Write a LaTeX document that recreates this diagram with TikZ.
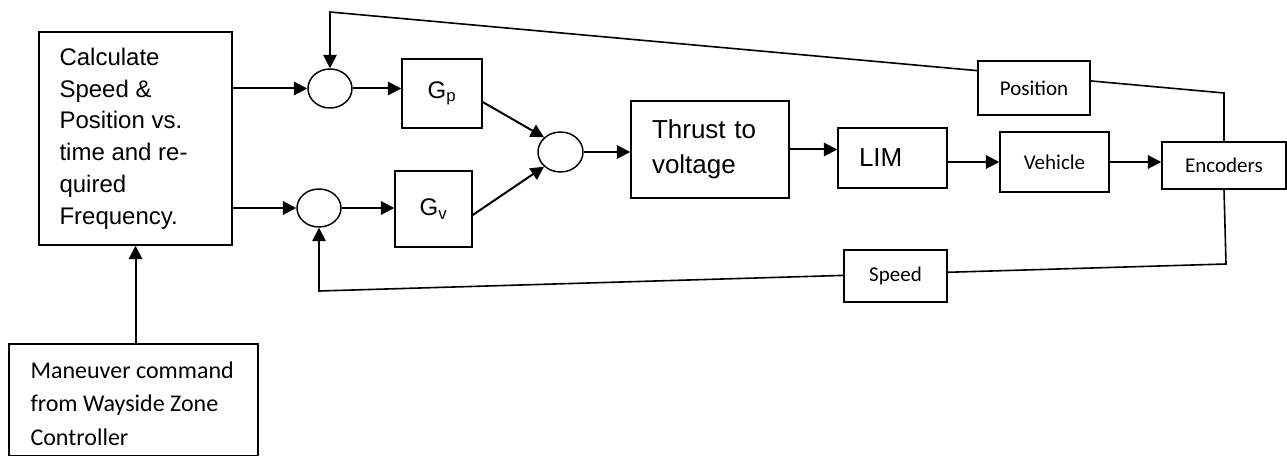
\documentclass[tikz,border=0pt]{standalone}
\usepackage{fontspec}
\setmainfont{Liberation Sans}
\newfontfamily\calfont{Carlito}
\usetikzlibrary{arrows.meta,positioning,shapes.geometric,backgrounds}
\tikzset{
    >={Triangle[length=10pt,width=10pt]},
    blk/.style={draw, line width=1.1pt, fill=white, inner sep=0pt},
    bigblk/.style={blk, font=\fontsize{19.5}{26.25}\selectfont, align=left, inner xsep=15.75pt},
    smallblk/.style={blk, font=\calfont\fontsize{15.75}{19}\selectfont},
    gblk/.style={blk, font=\fontsize{18}{22}\selectfont},
    sumnode/.style={draw, ellipse, line width=1.1pt, fill=white, inner sep=0pt},
    txt/.style={inner sep=0pt, align=left},
    arrow/.style={->, line width=1.5pt},
    fbarrow/.style={->, line width=1.2pt}
}

\begin{document}
\begin{tikzpicture}[x=0.75pt, y=-0.75pt]
\useasboundingbox (0,0) rectangle (1287,456);
\node[blk, minimum width=144.75pt, minimum height=159.75pt] (calc) at (135.5,138.5) {};
\node[txt, font=\fontsize{18}{23.8}\selectfont, below right=12.4pt and 15.75pt of calc.north west] (calctext) {Calculate\\Speed \&\\Position vs.\\time and re-\\quired\\Frequency.};
\node[blk, minimum width=186.75pt, minimum height=83.6pt] (man) at (133.5,399.75) {};
\node[txt, font=\calfont\fontsize{18}{25}\selectfont, below right=13.6pt and 16.5pt of man.north west] (mantext) {Maneuver command\\from Wayside Zone\\Controller};
\node[sumnode, minimum width=33pt, minimum height=29.25pt] (sump) at (330,88.5) {};
\node[sumnode, minimum width=33pt, minimum height=28.5pt] (sumv) at (319,208) {};
\node[sumnode, minimum width=33.75pt, minimum height=30pt] (sumt) at (560.5,152) {};
\node[gblk, minimum width=60pt, minimum height=51.75pt] (gp) at (442,93.5) {G\textsubscript{p}};
\node[gblk, minimum width=57.75pt, minimum height=57pt] (gv) at (433.5,209) {G\textsubscript{v}};
\node[bigblk, text width=87pt, minimum height=72.75pt] (thrust) at (710,149.5) {Thrust to\\voltage};
\node[bigblk, text width=50.25pt, minimum height=45pt] (lim) at (892.5,158) {LIM};
\node[smallblk, minimum width=81.75pt, minimum height=45pt] (veh) at (1054.5,162) {Vehicle};
\node[smallblk, minimum width=93pt, minimum height=35.25pt] (enc) at (1224,165.5) {Encoders};
\node[smallblk, minimum width=84pt, minimum height=40.5pt] (pos) at (1034,88) {Position};
\node[smallblk, minimum width=77.25pt, minimum height=39pt] (speed) at (895.5,276) {Speed};
% feedback corners
\coordinate (pc1) at (1224,93);
\coordinate (pc2) at (330,12);
\coordinate (sc1) at (1226,264);
\coordinate (sc2) at (319,291);
\draw[arrow] (calc.east |- sump.west) -- (sump.west);
\draw[arrow] (calc.east |- sumv.west) -- (sumv.west);
\draw[arrow] (sump.east) -- (sump.east -| gp.west);
\draw[arrow] (sumv.east) -- (sumv.east -| gv.west);
\draw[arrow] ([yshift=-6.4pt]gp.east) -- (sumt.north west);
\draw[arrow] ([yshift=-4.5pt]gv.east) -- (sumt.south west);
\draw[arrow] (sumt.east) -- (sumt.east -| thrust.west);
\draw[arrow] (thrust.east) -- (thrust.east -| lim.west);
\draw[arrow] (lim.east |- veh) -- (veh.west);
\draw[arrow] (veh.east) -- (veh.east -| enc.west);
\draw[arrow] (man.north -| calc.south) -- (calc.south);
\begin{scope}[on background layer]
    \draw[fbarrow] (enc.north) -- (pc1) -- (pc2) -- (sump.north);
    \draw[fbarrow] (enc.south) -- (sc1) -- (sc2) -- (sumv.south);
\end{scope}
\end{tikzpicture}
\end{document}
